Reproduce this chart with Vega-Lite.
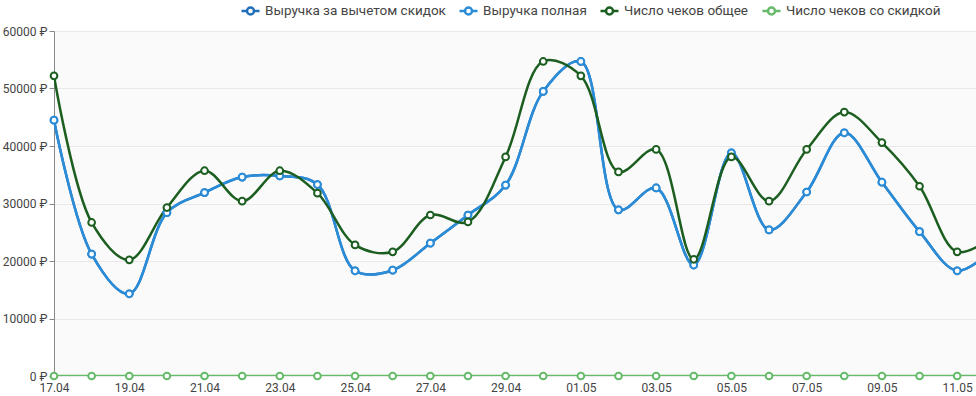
{
  "$schema": "https://vega.github.io/schema/vega-lite/v6.json",
  "autosize": {"type": "none"},
  "padding": {"left": 54, "top": 31, "right": 0, "bottom": 20},
  "width": 922,
  "height": 345,
  "background": "white",
  "config": {
    "view": {"fill": "#fafafa", "stroke": null},
    "font": "Roboto"
  },
  "data": {
    "values": [
      {"date": "2025-04-17", "series": "Выручка за вычетом скидок", "value": 44500},
      {"date": "2025-04-18", "series": "Выручка за вычетом скидок", "value": 21200},
      {"date": "2025-04-19", "series": "Выручка за вычетом скидок", "value": 14300},
      {"date": "2025-04-20", "series": "Выручка за вычетом скидок", "value": 28400},
      {"date": "2025-04-21", "series": "Выручка за вычетом скидок", "value": 31900},
      {"date": "2025-04-22", "series": "Выручка за вычетом скидок", "value": 34600},
      {"date": "2025-04-23", "series": "Выручка за вычетом скидок", "value": 34800},
      {"date": "2025-04-24", "series": "Выручка за вычетом скидок", "value": 33300},
      {"date": "2025-04-25", "series": "Выручка за вычетом скидок", "value": 18300},
      {"date": "2025-04-26", "series": "Выручка за вычетом скидок", "value": 18400},
      {"date": "2025-04-27", "series": "Выручка за вычетом скидок", "value": 23100},
      {"date": "2025-04-28", "series": "Выручка за вычетом скидок", "value": 28000},
      {"date": "2025-04-29", "series": "Выручка за вычетом скидок", "value": 33200},
      {"date": "2025-04-30", "series": "Выручка за вычетом скидок", "value": 49500},
      {"date": "2025-05-01", "series": "Выручка за вычетом скидок", "value": 54700},
      {"date": "2025-05-02", "series": "Выручка за вычетом скидок", "value": 28900},
      {"date": "2025-05-03", "series": "Выручка за вычетом скидок", "value": 32700},
      {"date": "2025-05-04", "series": "Выручка за вычетом скидок", "value": 19300},
      {"date": "2025-05-05", "series": "Выручка за вычетом скидок", "value": 38800},
      {"date": "2025-05-06", "series": "Выручка за вычетом скидок", "value": 25400},
      {"date": "2025-05-07", "series": "Выручка за вычетом скидок", "value": 32000},
      {"date": "2025-05-08", "series": "Выручка за вычетом скидок", "value": 42300},
      {"date": "2025-05-09", "series": "Выручка за вычетом скидок", "value": 33700},
      {"date": "2025-05-10", "series": "Выручка за вычетом скидок", "value": 25100},
      {"date": "2025-05-11", "series": "Выручка за вычетом скидок", "value": 18300},
      {"date": "2025-05-12", "series": "Выручка за вычетом скидок", "value": 22300},
      {"date": "2025-04-17", "series": "Выручка полная", "value": 44500},
      {"date": "2025-04-18", "series": "Выручка полная", "value": 21200},
      {"date": "2025-04-19", "series": "Выручка полная", "value": 14300},
      {"date": "2025-04-20", "series": "Выручка полная", "value": 28400},
      {"date": "2025-04-21", "series": "Выручка полная", "value": 31900},
      {"date": "2025-04-22", "series": "Выручка полная", "value": 34600},
      {"date": "2025-04-23", "series": "Выручка полная", "value": 34800},
      {"date": "2025-04-24", "series": "Выручка полная", "value": 33300},
      {"date": "2025-04-25", "series": "Выручка полная", "value": 18300},
      {"date": "2025-04-26", "series": "Выручка полная", "value": 18400},
      {"date": "2025-04-27", "series": "Выручка полная", "value": 23100},
      {"date": "2025-04-28", "series": "Выручка полная", "value": 28000},
      {"date": "2025-04-29", "series": "Выручка полная", "value": 33200},
      {"date": "2025-04-30", "series": "Выручка полная", "value": 49500},
      {"date": "2025-05-01", "series": "Выручка полная", "value": 54700},
      {"date": "2025-05-02", "series": "Выручка полная", "value": 28900},
      {"date": "2025-05-03", "series": "Выручка полная", "value": 32700},
      {"date": "2025-05-04", "series": "Выручка полная", "value": 19300},
      {"date": "2025-05-05", "series": "Выручка полная", "value": 38800},
      {"date": "2025-05-06", "series": "Выручка полная", "value": 25400},
      {"date": "2025-05-07", "series": "Выручка полная", "value": 32000},
      {"date": "2025-05-08", "series": "Выручка полная", "value": 42300},
      {"date": "2025-05-09", "series": "Выручка полная", "value": 33700},
      {"date": "2025-05-10", "series": "Выручка полная", "value": 25100},
      {"date": "2025-05-11", "series": "Выручка полная", "value": 18300},
      {"date": "2025-05-12", "series": "Выручка полная", "value": 22300},
      {"date": "2025-04-17", "series": "Число чеков общее", "value": 52200},
      {"date": "2025-04-18", "series": "Число чеков общее", "value": 26700},
      {"date": "2025-04-19", "series": "Число чеков общее", "value": 20200},
      {"date": "2025-04-20", "series": "Число чеков общее", "value": 29300},
      {"date": "2025-04-21", "series": "Число чеков общее", "value": 35700},
      {"date": "2025-04-22", "series": "Число чеков общее", "value": 30400},
      {"date": "2025-04-23", "series": "Число чеков общее", "value": 35700},
      {"date": "2025-04-24", "series": "Число чеков общее", "value": 31800},
      {"date": "2025-04-25", "series": "Число чеков общее", "value": 22800},
      {"date": "2025-04-26", "series": "Число чеков общее", "value": 21600},
      {"date": "2025-04-27", "series": "Число чеков общее", "value": 28000},
      {"date": "2025-04-28", "series": "Число чеков общее", "value": 26800},
      {"date": "2025-04-29", "series": "Число чеков общее", "value": 38100},
      {"date": "2025-04-30", "series": "Число чеков общее", "value": 54700},
      {"date": "2025-05-01", "series": "Число чеков общее", "value": 52200},
      {"date": "2025-05-02", "series": "Число чеков общее", "value": 35500},
      {"date": "2025-05-03", "series": "Число чеков общее", "value": 39400},
      {"date": "2025-05-04", "series": "Число чеков общее", "value": 20300},
      {"date": "2025-05-05", "series": "Число чеков общее", "value": 38100},
      {"date": "2025-05-06", "series": "Число чеков общее", "value": 30400},
      {"date": "2025-05-07", "series": "Число чеков общее", "value": 39400},
      {"date": "2025-05-08", "series": "Число чеков общее", "value": 45900},
      {"date": "2025-05-09", "series": "Число чеков общее", "value": 40600},
      {"date": "2025-05-10", "series": "Число чеков общее", "value": 33000},
      {"date": "2025-05-11", "series": "Число чеков общее", "value": 21600},
      {"date": "2025-05-12", "series": "Число чеков общее", "value": 24400},
      {"date": "2025-04-17", "series": "Число чеков со скидкой", "value": 0},
      {"date": "2025-04-18", "series": "Число чеков со скидкой", "value": 0},
      {"date": "2025-04-19", "series": "Число чеков со скидкой", "value": 0},
      {"date": "2025-04-20", "series": "Число чеков со скидкой", "value": 0},
      {"date": "2025-04-21", "series": "Число чеков со скидкой", "value": 0},
      {"date": "2025-04-22", "series": "Число чеков со скидкой", "value": 0},
      {"date": "2025-04-23", "series": "Число чеков со скидкой", "value": 0},
      {"date": "2025-04-24", "series": "Число чеков со скидкой", "value": 0},
      {"date": "2025-04-25", "series": "Число чеков со скидкой", "value": 0},
      {"date": "2025-04-26", "series": "Число чеков со скидкой", "value": 0},
      {"date": "2025-04-27", "series": "Число чеков со скидкой", "value": 0},
      {"date": "2025-04-28", "series": "Число чеков со скидкой", "value": 0},
      {"date": "2025-04-29", "series": "Число чеков со скидкой", "value": 0},
      {"date": "2025-04-30", "series": "Число чеков со скидкой", "value": 0},
      {"date": "2025-05-01", "series": "Число чеков со скидкой", "value": 0},
      {"date": "2025-05-02", "series": "Число чеков со скидкой", "value": 0},
      {"date": "2025-05-03", "series": "Число чеков со скидкой", "value": 0},
      {"date": "2025-05-04", "series": "Число чеков со скидкой", "value": 0},
      {"date": "2025-05-05", "series": "Число чеков со скидкой", "value": 0},
      {"date": "2025-05-06", "series": "Число чеков со скидкой", "value": 0},
      {"date": "2025-05-07", "series": "Число чеков со скидкой", "value": 0},
      {"date": "2025-05-08", "series": "Число чеков со скидкой", "value": 0},
      {"date": "2025-05-09", "series": "Число чеков со скидкой", "value": 0},
      {"date": "2025-05-10", "series": "Число чеков со скидкой", "value": 0},
      {"date": "2025-05-11", "series": "Число чеков со скидкой", "value": 0},
      {"date": "2025-05-12", "series": "Число чеков со скидкой", "value": 0}
    ]
  },
  "encoding": {
    "x": {
      "field": "date",
      "type": "temporal",
      "scale": {
        "type": "utc",
        "domain": [
          {"year": 2025, "month": 4, "date": 17, "utc": true},
          {"year": 2025, "month": 5, "date": 11, "hours": 12, "utc": true}
        ],
        "nice": false
      },
      "axis": {
        "title": null,
        "format": "%d.%m",
        "tickCount": {"interval": "day", "step": 2},
        "domain": false,
        "ticks": false,
        "grid": false,
        "labelFont": "Roboto",
        "labelFontSize": 12,
        "labelColor": "#444",
        "labelPadding": 6,
        "labelOverlap": false,
        "labelFlush": false
      }
    },
    "y": {
      "field": "value",
      "type": "quantitative",
      "scale": {"domain": [0, 60000], "nice": false},
      "axis": {
        "title": null,
        "tickCount": 6,
        "labelExpr": "datum.value + ' ₽'",
        "domain": true,
        "domainColor": "#888",
        "ticks": true,
        "tickSize": 5,
        "tickColor": "#888",
        "grid": true,
        "gridColor": "#e9e9e9",
        "labelFont": "Roboto",
        "labelFontSize": 12,
        "labelColor": "#444",
        "labelPadding": 2
      }
    },
    "color": {
      "field": "series",
      "type": "nominal",
      "scale": {
        "domain": ["Выручка за вычетом скидок", "Выручка полная", "Число чеков общее", "Число чеков со скидкой"],
        "range": ["#1f6fb8", "#2b8cd8", "#1b5e20", "#66bb6a"]
      },
      "legend": {
        "title": null,
        "orient": "none",
        "legendX": 186,
        "legendY": -31,
        "direction": "horizontal",
        "padding": 0,
        "symbolType": "M-1,0L-0.39,0M0.39,0L1,0M0.39,0A0.39,0.39,0,1,1,-0.39,0A0.39,0.39,0,1,1,0.39,0",
        "symbolSize": 324,
        "symbolStrokeWidth": 1.5,
        "symbolFillColor": "white",
        "labelFont": "Roboto",
        "labelFontSize": 13.5,
        "labelColor": "#444",
        "labelLimit": 0,
        "labelOffset": 4,
        "columnPadding": 8
      }
    }
  },
  "layer": [
    {
      "mark": {"type": "line", "interpolate": "catmull-rom", "clip": true},
      "encoding": {
        "strokeWidth": {
          "field": "series",
          "type": "nominal",
          "scale": {
            "domain": ["Выручка за вычетом скидок", "Выручка полная", "Число чеков общее", "Число чеков со скидкой"],
            "range": [2.5, 2.5, 1.6, 2]
          },
          "legend": null
        }
      }
    },
    {
      "mark": {"type": "point", "shape": "circle", "filled": false, "fill": "white", "fillOpacity": 1, "opacity": 1, "size": 45, "strokeWidth": 2}
    }
  ]
}
